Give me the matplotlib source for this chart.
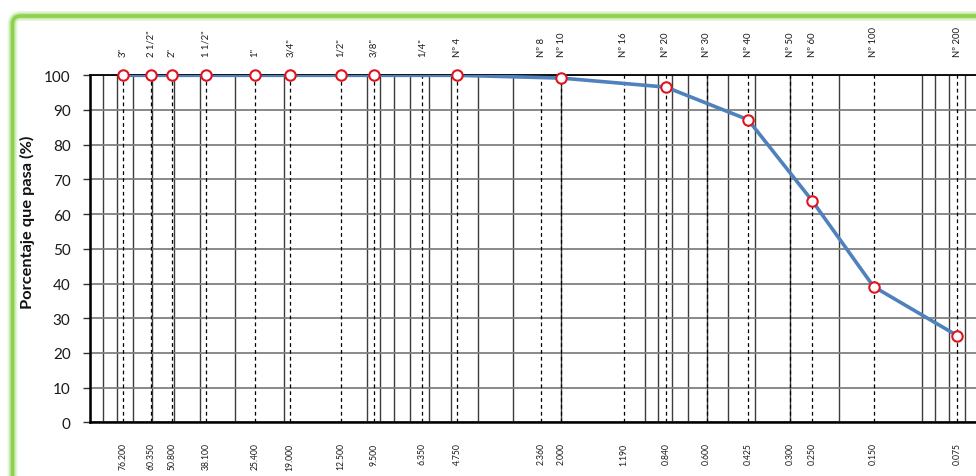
import numpy as np
import matplotlib
matplotlib.use("Agg")
import matplotlib.pyplot as plt
from matplotlib.patches import FancyBboxPatch
from matplotlib.ticker import LogLocator, NullFormatter
import matplotlib.transforms as mtransforms

# Sieve series: names, openings (mm) and percent passing (nan = not measured)
sieve_names = ['3"', '2 1/2"', '2"', '1 1/2"', '1"', '3/4"', '1/2"', '3/8"', '1/4"',
               'Nº 4', 'Nº 8', 'Nº 10', 'Nº 16', 'Nº 20', 'Nº 30', 'Nº 40',
               'Nº 50', 'Nº 60', 'Nº 100', 'Nº 200']
openings_mm = [76.2, 60.35, 50.8, 38.1, 25.4, 19.0, 12.5, 9.5, 6.35, 4.75,
               2.36, 2.0, 1.19, 0.84, 0.6, 0.425, 0.3, 0.25, 0.15, 0.075]
opening_labels = ["76.200", "60.350", "50.800", "38.100", "25.400", "19.000",
                  "12.500", "9.500", "6.350", "4.750", "2.360", "2.000", "1.190",
                  "0.840", "0.600", "0.425", "0.300", "0.250", "0.150", "0.075"]
percent_passing = [100, 100, 100, 100, 100, 100, 100, 100, np.nan, 100,
                   np.nan, 99.2, np.nan, 96.6, np.nan, 87.2, np.nan, 63.9, 39.1, 25.0]
y_ticks = [0, 10, 20, 30, 40, 50, 60, 70, 80, 90, 100]

FONT = "Lato"
plt.rcParams["font.family"] = [FONT, "DejaVu Sans"]

W, H = 976, 477
fig = plt.figure(figsize=(W / 100, H / 100), dpi=100)
fig.patch.set_facecolor("white")

# Green rounded frame with a soft glow
for lw, col in [(7, "#e4f4d6"), (4.5, "#c4e8a4"), (2.6, "#8fd14f")]:
    frame = FancyBboxPatch((0.125, -0.6), 10.5, 5.2,
                           boxstyle="round,pad=0,rounding_size=0.08",
                           transform=fig.dpi_scale_trans, facecolor="none",
                           edgecolor=col, linewidth=lw, clip_on=False, zorder=0)
    fig.add_artist(frame)

ax = fig.add_axes([90 / W, (H - 423.3) / H, (984 - 90) / W, 347 / H])
ax.set_xscale("log")
ax.set_xlim(100, 0.06)
ax.set_ylim(0, 100)

# Log grid (verticals) and percentage grid (horizontals)
ax.xaxis.set_major_locator(LogLocator(base=10))
ax.xaxis.set_minor_locator(LogLocator(base=10, subs=np.arange(2, 10)))
ax.xaxis.set_minor_formatter(NullFormatter())
ax.tick_params(axis="x", which="both", length=0, labelbottom=False)
ax.grid(True, axis="x", which="both", color="#3c3c3c", linewidth=1.0, zorder=1)
ax.set_yticks(y_ticks)
ax.grid(True, axis="y", which="major", color="#808080", linewidth=1.3, zorder=1)
ax.set_axisbelow(True)
ax.tick_params(axis="y", length=5, width=1.0, color="#333333", pad=9,
               labelsize=11, labelcolor="#1a1a1a")

for side in ["left", "bottom"]:
    ax.spines[side].set_linewidth(1.8)
    ax.spines[side].set_color("black")
ax.spines["top"].set_linewidth(1.3)
ax.spines["top"].set_color("black")
ax.spines["right"].set_visible(False)

# Dashed reference line at every sieve opening
for d in openings_mm:
    ax.axvline(d, color="black", linewidth=0.9, linestyle=(0, (3, 2.5)), zorder=2)

# Grading curve
op = np.array(openings_mm)
pp = np.array(percent_passing, dtype=float)
mask = ~np.isnan(pp)
ax.plot(op[mask], pp[mask], color="#4f81bd", linewidth=2.6, zorder=3,
        solid_capstyle="round")
ax.plot(op[mask], pp[mask], linestyle="none", marker="o", markersize=7.5,
        markerfacecolor="white", markeredgecolor="#e0141e", markeredgewidth=1.5,
        zorder=4, clip_on=False)

# Sieve names above, openings below
trans = mtransforms.blended_transform_factory(ax.transData, ax.transAxes)
for d, name, lab in zip(openings_mm, sieve_names, opening_labels):
    ax.text(d, 1.055, name, transform=trans, rotation=90, ha="center", va="bottom",
            fontsize=6.8, color="#1a1a1a")
    ax.text(d, -0.058, lab, transform=trans, rotation=90, ha="center", va="top",
            fontsize=6.2, color="#1a1a1a")

fig.text(27.5 / W, 1 - 222 / H, "Porcentaje que pasa (%)", rotation=90,
         ha="center", va="center", fontsize=11.8, fontweight="bold",
         color="#111111")

fig.savefig("out.png", dpi=100, facecolor="white")
